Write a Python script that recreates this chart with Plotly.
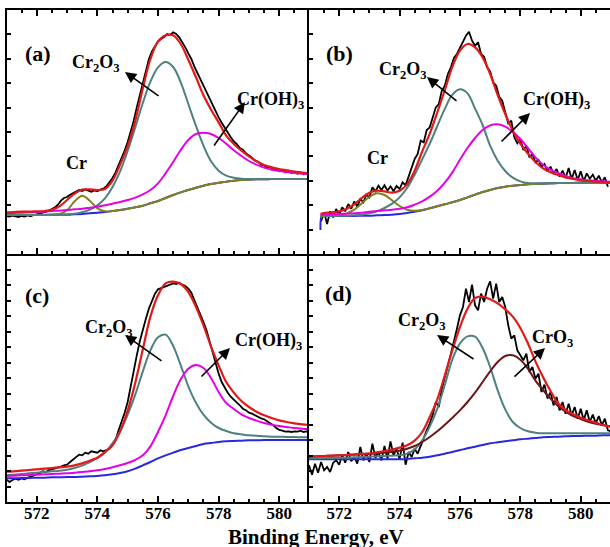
import numpy as np
import plotly.graph_objects as go

# ---------------- data (intensity in arbitrary units) ----------------
E_fit = list(np.round(np.arange(571.0, 581.001, 0.25), 2))
E_fit_b = [571.38, 571.42] + list(np.round(np.arange(571.5, 581.001, 0.25), 2))
E_raw = list(np.round(np.arange(571.0, 581.001, 0.1), 1))
E_raw_b = list(np.round(np.arange(571.4, 580.901, 0.1), 1))

# panel (a)
a_bg = [117,117,117,117,117,117,118,118,118,119,120,122,124,126,129,132,136,140,145,152,159,168,177,185,192,199,205,210,214,217,220,222,223,224,224,225,225,225,225,225,225]
a_cr = [117,117,117,117,117,117,118,120,131,158,175,160,137,128,129,132,136,140,145,152,159,168,177,185,192,199,205,210,214,217,220,222,223,224,224,225,225,225,225,225,225]
a_cr2o3 = [117,117,117,117,117,117,118,118,119,121,125,133,146,167,201,248,309,380,453,517,560,576,561,515,450,385,325,278,250,235,229,226,225,225,225,225,225,225,225,225,225]
a_croh3 = [122,123,124,125,126,127,129,130,132,134,136,139,142,146,151,156,162,169,179,192,212,242,276,312,342,360,364,360,348,331,311,294,279,268,259,253,249,246,243,241,239]
a_fit = [125,126,127,127,128,129,133,143,162,181,193,194,192,195,220,268,324,400,497,585,637,656,656,630,583,531,476,433,395,355,330,310,293,278,267,260,255,251,247,244,242]
a_raw = [114,112,115,113,111,114,112,116,113,117,
         119,121,124,126,130,134,140,148,160,168,
         171,178,183,188,192,189,194,190,187,191,
         188,193,196,203,215,228,245,266,288,310,
         336,366,400,440,478,515,552,585,608,625,
         638,645,651,660,657,665,660,650,636,620,
         602,585,562,543,520,500,482,463,445,428,
         410,394,378,364,350,338,330,318,313,302,
         296,289,280,277,268,266,258,262,252,255,
         248,252,245,250,243,247,241,245,239,243,
         240]

# panel (b)
b_bg = [72,113,114,114,114,114,114,115,115,116,117,118,120,123,127,131,137,143,149,155,162,170,178,186,192,198,202,205,207,209,210,211,212,213,213,213,214,214,214,214,214]
b_cr = [114,113,114,115,116,122,133,152,171,182,177,161,144,133,130,132,137,143,149,155,162,170,178,186,192,198,202,205,207,209,210,211,212,213,213,213,214,214,214,214,214]
b_cr2o3 = [114,113,114,114,115,115,116,118,122,128,138,151,170,198,238,284,331,384,436,478,494,482,436,387,325,280,249,229,218,213,212,212,212,213,213,213,214,214,214,214,214]
b_croh3 = [117,117,118,119,120,121,122,124,127,129,131,133,136,140,148,158,172,190,214,245,283,318,348,372,386,389,382,366,345,318,290,268,253,243,234,227,224,221,219,218,217]
b_fit = [121,121,123,125,128,136,149,168,184,190,188,184,190,209,250,308,361,425,492,562,610,630,620,590,540,477,420,370,331,301,276,257,245,237,230,225,221,219,217,215,214]
b_raw = [98,125,90,128,110,135,
         118,140,128,150,136,158,142,165,155,178,
         170,200,188,205,192,206,190,203,188,204,
         195,215,206,232,255,285,300,340,335,372,
         380,412,440,450,490,505,540,560,588,600,
         618,632,655,667,640,625,635,600,592,560,
         548,515,505,472,460,425,392,400,350,332,
         345,312,325,290,300,275,282,262,270,248,
         262,240,255,232,250,228,258,225,252,222,
         248,218,242,226,238,220,235,215,230,202]

# panel (c)
c_bg = [71,71,72,72,73,73,74,74,75,75,76,77,78,80,83,87,92,100,110,120,131,140,148,156,162,168,174,177,180,182,183,184,185,185,186,186,186,186,186,186,186]
c_cr2o3 = [81,82,84,86,88,90,92,94,97,102,109,120,132,148,176,212,262,322,392,455,494,502,468,410,347,298,262,238,222,213,206,203,200,199,197,196,196,195,195,194,194]
c_croh3 = [78,79,80,81,82,83,84,85,86,88,90,92,95,99,104,110,117,126,140,167,210,260,318,368,400,411,402,372,330,297,279,263,252,244,237,232,228,225,222,220,219]
c_fit = [91,92,94,96,98,100,102,104,106,110,116,124,133,150,170,212,274,358,458,556,620,656,661,654,630,586,530,466,410,360,328,303,285,271,260,252,245,240,236,233,231]
c_raw = [68,60,66,70,67,71,68,73,75,80,
         84,86,92,90,96,98,100,104,106,110,
         112,120,128,136,142,140,148,145,152,150,
         148,155,152,156,160,172,186,215,240,268,
         300,350,398,440,482,520,550,580,605,625,
         638,642,646,650,652,656,654,658,652,648,
         640,628,605,585,562,540,515,482,450,410,
         385,360,342,328,316,306,298,290,280,275,
         268,265,260,255,251,248,242,238,230,222,
         216,214,211,212,210,212,211,214,210,212,
         211]

# panel (d)
d_bg = [128,128,128,128,128,128,128,128,128,128,128,128,128,129,131,133,136,140,145,150,156,161,166,171,176,179,182,185,188,190,192,194,195,196,197,198,198,199,199,200,200]
d_cr2o3 = [131,131,132,132,133,133,134,135,136,137,138,139,140,145,158,185,226,280,352,428,476,497,496,462,405,335,278,240,222,212,208,206,206,206,206,206,206,206,206,206,206]
d_cro3 = [136,137,138,139,140,141,142,143,144,146,148,151,154,160,168,180,195,212,232,253,275,300,328,360,392,420,438,440,427,400,364,336,310,288,271,258,249,241,235,230,226]
d_fit = [136,137,138,139,140,141,143,144,146,149,153,157,163,170,184,210,255,308,380,456,525,580,612,616,608,596,578,556,522,476,422,375,333,296,276,263,253,245,238,231,226]
d_raw = [110,82,115,88,120,95,105,90,118,125,
         112,140,118,150,122,135,115,165,125,145,
         120,175,132,150,125,168,130,182,140,160,
         128,178,112,150,135,160,145,170,190,215,
         236,262,300,285,340,380,410,445,480,520,
         560,585,640,600,652,590,575,625,600,640,
         662,610,655,600,615,585,530,490,500,455,
         440,425,445,390,405,370,385,330,352,310,
         330,290,315,275,300,265,295,260,285,250,
         280,245,275,240,262,236,258,230,250,215,
         212]

x_ticks = [572, 574, 576, 578, 580]

# ---------------- styling ----------------
C_RAW = "#000000"
C_FIT = "rgb(225,25,25)"
C_CR2O3 = "rgb(78,128,128)"
C_CROH3 = "rgb(230,0,230)"
C_BG = "rgb(40,40,225)"
C_CR = "rgb(128,128,30)"
C_CRO3 = "rgb(110,22,22)"
FONT = "Liberation Serif"

W, H = 610, 547
fig = go.Figure()


def add(xa, ya, x, y, color, width=2.0, shape="spline"):
    fig.add_trace(go.Scatter(x=x, y=y, mode="lines", xaxis=xa, yaxis=ya,
                             line=dict(color=color, width=width, shape=shape),
                             showlegend=False, hoverinfo="skip"))


# (a)
add("x", "y", E_raw, a_raw, C_RAW, 1.8, "linear")
add("x", "y", E_fit, a_bg, C_BG)
add("x", "y", E_fit, a_cr, C_CR)
add("x", "y", E_fit, a_cr2o3, C_CR2O3)
add("x", "y", E_fit, a_croh3, C_CROH3)
add("x", "y", E_fit, a_fit, C_FIT, 2.2)
# (b)
add("x2", "y2", E_raw_b, b_raw, C_RAW, 1.8, "linear")
add("x2", "y2", E_fit_b, b_bg, C_BG)
add("x2", "y2", E_fit_b, b_cr, C_CR)
add("x2", "y2", E_fit_b, b_cr2o3, C_CR2O3)
add("x2", "y2", E_fit_b, b_croh3, C_CROH3)
add("x2", "y2", E_fit_b, b_fit, C_FIT, 2.2)
# (c)
add("x3", "y3", E_raw, c_raw, C_RAW, 1.8, "linear")
add("x3", "y3", E_fit, c_bg, C_BG)
add("x3", "y3", E_fit, c_cr2o3, C_CR2O3)
add("x3", "y3", E_fit, c_croh3, C_CROH3)
add("x3", "y3", E_fit, c_fit, C_FIT, 2.2)
# (d)
add("x4", "y4", E_raw, d_raw, C_RAW, 1.8, "linear")
add("x4", "y4", E_fit, d_bg, C_BG)
add("x4", "y4", E_fit, d_cr2o3, C_CR2O3)
add("x4", "y4", E_fit, d_cro3, C_CRO3)
add("x4", "y4", E_fit, d_fit, C_FIT, 2.2)

# ---------------- axes ----------------
xl, xm, xr = 7 / W, 309 / W, 1.0
yt, ym, yb = 1 - 10 / H, 1 - 254 / H, 1 - 502 / H


def xaxis(domain, rng, anchor, labels, mirror):
    return dict(domain=domain, range=rng, anchor=anchor, showgrid=False, zeroline=False,
                showline=True, linewidth=2, linecolor="black", mirror=mirror,
                tickmode="array", tickvals=x_ticks,
                ticktext=["<b>%d</b>" % t for t in x_ticks],
                ticks="inside", ticklen=6, tickwidth=2, tickcolor="black",
                minor=dict(dtick=0.5, tick0=571, ticks="inside", ticklen=3,
                           tickwidth=1.5, tickcolor="black"),
                showticklabels=labels, ticklabelposition="outside",
                ticklabelstandoff=-5,
                tickfont=dict(family=FONT, size=17, color="black", weight="bold"))


def yaxis(domain, rng, dtick, anchor):
    return dict(domain=domain, range=rng, anchor=anchor, showgrid=False, zeroline=False,
                showline=True, linewidth=2, linecolor="black", mirror=False,
                tickmode="linear", tick0=0, dtick=dtick,
                ticks="inside", ticklen=4, tickwidth=1.5, tickcolor="black",
                showticklabels=False)


fig.update_layout(
    width=W, height=H, margin=dict(l=0, r=0, t=0, b=0),
    paper_bgcolor="white", plot_bgcolor="white", showlegend=False,
    font=dict(family=FONT, color="black"),
    xaxis=xaxis([xl, xm], [571.02, 580.98], "y", False, "ticks"),
    yaxis=yaxis([ym, yt], [0, 732], 73.2, "x"),
    xaxis2=xaxis([xm, xr], [571.0, 580.97], "y2", False, "ticks"),
    yaxis2=yaxis([ym, yt], [0, 732], 73.2, "x2"),
    xaxis3=xaxis([xl, xm], [571.02, 580.98], "y3", True, False),
    yaxis3=yaxis([yb, ym], [0, 744], 46.5, "x3"),
    xaxis4=xaxis([xm, xr], [571.0, 580.97], "y4", True, False),
    yaxis4=yaxis([yb, ym], [0, 744], 46.5, "x4"),
)

# ---------------- annotations ----------------
def px(x, y):
    return x / W, 1 - y / H


def text(x, y, s, size=18):
    X, Y = px(x, y)
    fig.add_annotation(x=X, y=Y, xref="paper", yref="paper", text="<b>%s</b>" % s,
                       showarrow=False, xanchor="center", yanchor="middle",
                       font=dict(family=FONT, size=size, color="black"))


def arrow(tail, head):
    X, Y = px(*head)
    fig.add_annotation(x=X, y=Y, xref="paper", yref="paper", text="",
                       showarrow=True, ax=tail[0] - head[0], ay=tail[1] - head[1],
                       arrowhead=2, arrowsize=1.4, arrowwidth=1.6, arrowcolor="black",
                       standoff=0, startstandoff=0)


CR2O3 = "Cr<sub>2</sub>O<sub>3</sub>"
CROH3 = "Cr(OH)<sub>3</sub>"
CRO3 = "CrO<sub>3</sub>"

# (a)
text(38, 53, "(a)", 22)
text(96, 64, CR2O3)
arrow((160, 97), (125, 72))
text(270, 101, CROH3)
arrow((213, 147), (245, 102))
text(76, 163, "Cr")
# (b)
text(339, 53, "(b)", 22)
text(403, 71, CR2O3)
arrow((458, 102), (427, 77))
text(556, 101, CROH3)
arrow((500, 143), (530, 113))
text(377, 158, "Cr")
# (c)
text(37, 295, "(c)", 22)
text(109, 328, CR2O3)
arrow((163, 362), (125, 335))
text(268, 341, CROH3)
arrow((200, 378), (230, 348))
# (d)
text(338, 293, "(d)", 22)
text(422, 321, CR2O3)
arrow((475, 360), (437, 335))
text(552, 338, CRO3)
arrow((513, 378), (545, 348))

# x-axis title
text(316, 537, "Binding Energy, eV", 21)

fig.write_html("out.html")
